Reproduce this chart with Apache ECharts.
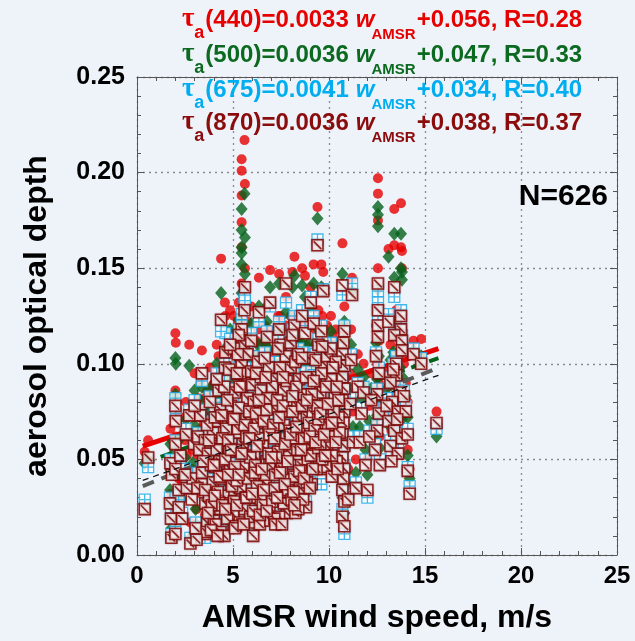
<!DOCTYPE html>
<html>
<head>
<meta charset="utf-8">
<script src="https://cdn.jsdelivr.net/npm/echarts@6/dist/echarts.min.js"></script>
<style>
html, body { margin: 0; padding: 0; background: #eef3fa; }
#chart { width: 635px; height: 641px; }
</style>
</head>
<body>
<div id="chart"></div>
<script>
// one entry per observation: AMSR wind speed and aerosol optical depth at 4 wavelengths
const windSpeed = [
  0.40,0.58,1.72,1.79,1.77,2.00,1.74,1.82,2.26,2.17, 2.60,2.17,2.78,2.00,2.02,2.72,2.00,2.00,2.97,2.90,
  3.38,3.96,3.18,3.54,4.17,3.25,3.39,3.39,3.56,3.82, 3.65,4.34,4.00,3.54,4.25,4.34,4.60,4.38,4.58,4.10,
  4.95,4.80,4.70,4.90,5.03,5.03,4.50,4.65,5.10,4.85,
  5.60,5.45,5.45,5.62,5.45,5.45,5.45,5.62,5.45,5.38, 5.38,5.56,5.30,5.50,5.55,5.40,5.60,5.70,5.30,5.75,
  6.00,6.08,6.35,6.77,6.86,6.94,6.15,6.20,6.40,6.55, 6.70,6.90,6.30,6.60,6.10,6.93,6.45,6.75,6.05,6.85,
  7.40,7.47,7.64,7.76,7.20,7.30,7.55,7.80,7.10,7.90, 7.25,7.65,7.95,7.40,7.70,7.15,7.85,7.50,
  8.00,8.00,8.20,8.10,8.40,8.60,8.75,8.30,8.50,8.80, 8.15,8.70,8.45,8.90,8.25,8.65,8.95,9.05,8.35,8.85,
  9.40,9.20,9.60,9.70,9.30,9.50,9.60,9.20,9.80,9.10, 9.90,9.45,9.75,9.15,9.55,9.85,
  10.70,10.80,10.75,10.70,10.80,10.70,10.80,10.70,10.80,10.75, 10.70,10.80,10.70,10.80,10.75,10.70,10.80,10.70,10.80,11.00, 11.20,10.30,10.20,10.40,10.10,10.50,10.15,11.10,11.25,11.15,
  12.00,12.55,12.55,12.55,12.55,12.45,12.60,12.50,12.60,12.50, 12.40,12.65,
  13.40,13.75,13.10,13.75,13.40,13.80,13.80,13.50,13.50,13.20, 13.70,13.30,13.60,13.10,13.40,13.80,13.20,13.60,14.40,14.80, 14.10,14.20,14.00,15.60,
  3.60,3.75,3.85,3.70,3.95,3.65,3.90,3.80,
  4.10,4.20,4.30,4.45,4.05,4.40,4.25,4.15,4.35,
  4.55,4.70,4.85,4.60,4.75,4.90,4.55,4.80,4.95,
  5.05,5.20,5.15,5.25,5.10,5.35,5.20,5.05,5.30,5.15,
  5.65,5.80,5.90,5.70,5.85,5.95,5.75,5.90,5.60,
  6.05,6.25,6.15,6.35,6.20,6.45,6.30,6.40,6.10,6.45,
  6.55,6.70,6.85,6.60,6.80,6.65,6.95,6.75,6.90,
  7.05,7.20,7.35,7.10,7.30,7.45,7.15,7.40,7.25,
  7.55,7.70,7.85,7.60,7.80,7.95,7.65,7.75,
  8.05,8.20,8.35,8.10,8.45,8.30,8.40,8.25,
  8.55,8.70,8.85,8.60,8.80,8.95,8.65,8.90,
  9.05,9.25,9.35,9.10,9.40,9.30,9.45,
  9.55,9.70,9.85,9.65,9.95,9.60,9.90,
  10.05,10.25,10.40,10.15,10.35,10.55,10.10,
  11.50,11.70,11.60,11.90,12.10,11.80,12.20,11.40,
  2.35,2.50,2.85,3.05,3.15,3.30,3.45,2.55,3.00,3.10,
  3.55,3.70,3.85,4.00,4.05,4.20,4.30,4.45,3.75,4.40,4.15,
  4.60,4.75,4.90,5.05,5.20,5.30,5.45,5.10,4.70,5.35,5.25,4.85,
  5.55,5.70,5.85,6.00,6.15,6.25,6.35,6.50,5.95,6.20,6.05,6.40,
  6.60,6.75,6.90,7.00,7.15,7.30,7.45,7.05,7.35,6.70,7.20,
  7.55,7.70,7.85,8.00,8.15,8.30,8.45,7.60,8.10,8.40,8.20,
  8.55,8.70,8.85,9.00,9.15,9.30,9.45,8.60,9.20,9.00,
  9.55,9.75,9.95,10.15,10.35,10.50,9.65,10.20,10.45,9.80,
  13.00,13.35,13.55,13.90,13.25,14.10
];
const aod440 = [
  .054,.060,.045,.020,.032,.024,.066,.060,.072,.050, .052,.040,.017,.116,.111,.110,.086,.062,.075,.055,
  .107,.089,.082,.082,.082,.072,.058,.050,.040,.035, .028,.038,.030,.021,.075,.095,.125,.155,.132,.062,
  .090,.070,.058,.050,.038,.030,.048,.082,.100,.040,
  .217,.207,.201,.194,.188,.174,.161,.150,.142,.115, .122,.128,.132,.075,.062,.050,.038,.090,.085,.104,
  .105,.098,.145,.130,.118,.100,.032,.045,.060,.075, .052,.040,.088,.095,.070,.149,.110,.068,.058,.085,
  .147,.125,.100,.135,.080,.062,.048,.038,.095,.070, .108,.085,.058,.035,.115,.050,.092,.072,
  .125,.112,.156,.148,.088,.150,.146,.065,.050,.040, .078,.100,.110,.075,.030,.060,.120,.140,.095,.088,
  .182,.152,.152,.148,.110,.085,.060,.070,.095,.050, .072,.128,.118,.090,.100,.058,
  .163,.130,.120,.118,.112,.105,.100,.095,.090,.085, .080,.075,.068,.062,.056,.048,.042,.036,.030,.045, .145,.100,.080,.065,.110,.088,.055,.095,.075,.118,
  .050,.197,.189,.175,.150,.120,.112,.100,.090,.080, .070,.062,
  .181,.184,.160,.161,.162,.159,.150,.128,.123,.110, .105,.098,.092,.088,.083,.078,.074,.070,.112,.113, .055,.045,.090,.075,
  .031,.048,.065,.072,.060,.086,.045,.098,
  .035,.050,.068,.080,.090,.058,.104,.072,.030,
  .025,.036,.060,.068,.080,.095,.105,.115,.052,
  .045,.055,.072,.082,.062,.030,.113,.125,.095,.028,
  .048,.056,.068,.080,.092,.112,.122,.035,.086,
  .038,.052,.065,.078,.092,.102,.118,.025,.082,.044,
  .042,.060,.072,.088,.100,.120,.030,.092,.060,
  .045,.058,.072,.085,.098,.115,.032,.088,.068,
  .062,.075,.050,.095,.108,.082,.038,.120,
  .045,.058,.072,.092,.082,.105,.038,.118,
  .062,.078,.052,.095,.110,.085,.045,.065,
  .068,.082,.060,.100,.095,.118,.072,
  .075,.088,.105,.065,.085,.112,.120,
  .078,.092,.105,.068,.118,.080,.125,
  .105,.090,.075,.062,.078,.100,.095,.050,
  .038,.060,.045,.032,.052,.090,.068,.080,.095,.024,
  .052,.038,.025,.065,.048,.025,.058,.042,.078,.090,.110,
  .040,.058,.072,.088,.042,.058,.070,.030,.098,.105,.122,.128,
  .030,.045,.078,.048,.060,.075,.098,.062,.130,.112,.020,.035,
  .050,.038,.080,.068,.078,.045,.058,.105,.125,.110,.028,
  .028,.052,.065,.080,.048,.085,.060,.110,.100,.122,.040,
  .072,.055,.098,.078,.060,.075,.088,.120,.108,.050,
  .090,.080,.095,.085,.075,.098,.125,.115,.060,.068,
  .095,.115,.088,.100,.065,.080
];
const aod500 = [
  .048,.050,.034,.014,.026,.016,.058,.052,.061,.043, .045,.030,.009,.103,.100,.099,.084,.059,.068,.048,
  .088,.080,.077,.073,.076,.064,.050,.042,.033,.028, .021,.030,.024,.013,.066,.085,.108,.137,.117,.055,
  .082,.062,.050,.043,.030,.022,.040,.074,.093,.033,
  .189,.181,.170,.166,.161,.158,.152,.147,.137,.105, .112,.118,.123,.066,.054,.043,.031,.080,.076,.095,
  .097,.089,.130,.122,.108,.092,.025,.038,.052,.066, .045,.033,.078,.086,.062,.140,.100,.060,.050,.078,
  .142,.117,.092,.127,.072,.055,.041,.031,.087,.063, .100,.077,.051,.028,.105,.043,.083,.064,
  .116,.104,.146,.140,.080,.141,.135,.058,.043,.033, .070,.092,.101,.067,.026,.053,.111,.130,.086,.080,
  .176,.142,.140,.139,.102,.077,.053,.062,.087,.044, .065,.118,.108,.082,.092,.051,
  .147,.122,.112,.108,.104,.097,.092,.087,.082,.077, .072,.067,.061,.055,.049,.041,.035,.030,.022,.037, .138,.092,.072,.058,.100,.080,.048,.087,.067,.110,
  .042,.182,.178,.172,.139,.111,.104,.092,.083,.073, .063,.056,
  .168,.168,.156,.150,.145,.148,.144,.120,.115,.102, .098,.090,.085,.080,.076,.071,.067,.063,.107,.104, .052,.040,.083,.062,
  .020,.040,.055,.063,.049,.077,.036,.087,
  .026,.041,.058,.071,.080,.049,.094,.062,.022,
  .018,.028,.051,.060,.071,.086,.096,.106,.044,
  .036,.046,.063,.073,.054,.023,.104,.117,.086,.021,
  .040,.048,.060,.071,.083,.103,.114,.027,.078,
  .030,.044,.057,.069,.083,.093,.110,.020,.074,.036,
  .034,.051,.063,.079,.091,.112,.024,.084,.052,
  .037,.050,.063,.076,.089,.106,.025,.080,.060,
  .054,.067,.042,.086,.100,.073,.030,.112,
  .037,.050,.064,.083,.074,.096,.031,.109,
  .054,.070,.044,.086,.101,.076,.038,.058,
  .060,.074,.052,.092,.087,.110,.064,
  .067,.080,.096,.057,.077,.104,.112,
  .070,.084,.097,.060,.110,.072,.117,
  .097,.082,.067,.055,.070,.093,.087,.043,
  .029,.051,.036,.024,.043,.081,.058,.071,.086,.016,
  .043,.030,.019,.056,.040,.018,.050,.034,.069,.082,.100,
  .032,.050,.064,.080,.034,.050,.062,.023,.090,.097,.113,.118,
  .023,.038,.070,.040,.052,.067,.089,.054,.121,.104,.015,.028,
  .043,.031,.071,.060,.070,.038,.050,.097,.116,.101,.022,
  .022,.045,.057,.072,.041,.076,.052,.101,.092,.113,.033,
  .064,.048,.090,.070,.053,.068,.080,.111,.100,.043,
  .082,.072,.087,.077,.067,.090,.117,.107,.053,.060,
  .087,.106,.080,.092,.058,.072
];
const aod675 = [
  .029,.046,.030,.011,.022,.015,.050,.044,.049,.031, .038,.026,.009,.082,.074,.076,.060,.047,.060,.043,
  .091,.066,.064,.062,.072,.057,.045,.039,.029,.024, .018,.026,.020,.009,.060,.079,.116,.117,.100,.048,
  .075,.056,.044,.036,.024,.017,.033,.068,.087,.030,
  .135,.126,.120,.133,.110,.106,.100,.096,.093,.098, .108,.113,.118,.060,.048,.038,.027,.074,.066,.085,
  .092,.083,.122,.117,.101,.086,.021,.033,.046,.060, .040,.028,.072,.078,.054,.130,.096,.052,.044,.070,
  .122,.113,.088,.132,.066,.049,.036,.026,.080,.057, .094,.071,.045,.024,.100,.038,.078,.060,
  .114,.100,.125,.118,.074,.128,.120,.052,.038,.028, .064,.087,.095,.061,.024,.046,.106,.135,.081,.075,
  .165,.125,.120,.139,.096,.070,.037,.056,.082,.040, .060,.113,.103,.077,.088,.048,
  .136,.120,.108,.104,.098,.091,.086,.080,.076,.070, .064,.058,.053,.047,.041,.034,.029,.024,.011,.033, .142,.086,.066,.052,.095,.075,.044,.082,.062,.105,
  .030,.138,.132,.125,.120,.106,.098,.087,.077,.068, .058,.050,
  .135,.128,.126,.121,.118,.115,.110,.104,.098,.093, .088,.082,.077,.072,.068,.064,.060,.056,.108,.103, .046,.036,.078,.066,
  .014,.033,.050,.055,.040,.070,.029,.083,
  .020,.036,.051,.064,.075,.043,.088,.058,.014,
  .012,.022,.047,.053,.063,.081,.091,.100,.038,
  .030,.041,.058,.068,.048,.020,.098,.111,.080,.018,
  .033,.042,.054,.065,.078,.098,.108,.023,.071,
  .026,.039,.050,.063,.077,.089,.104,.018,.069,.032,
  .029,.045,.056,.073,.085,.106,.021,.079,.050,
  .031,.045,.057,.071,.084,.101,.022,.075,.054,
  .048,.061,.037,.081,.094,.068,.026,.107,
  .032,.045,.058,.078,.069,.091,.027,.104,
  .050,.064,.040,.080,.096,.072,.032,.052,
  .055,.069,.047,.087,.081,.105,.059,
  .061,.074,.091,.052,.071,.098,.107,
  .065,.078,.091,.055,.104,.067,.111,
  .090,.077,.062,.050,.065,.088,.084,.038,
  .022,.045,.032,.017,.038,.076,.052,.066,.081,.010,
  .037,.025,.015,.050,.034,.013,.044,.029,.063,.077,.095,
  .027,.045,.058,.074,.029,.045,.056,.018,.084,.091,.108,.113,
  .019,.033,.064,.035,.046,.060,.084,.048,.116,.098,.013,.024,
  .037,.026,.066,.054,.064,.033,.046,.091,.112,.096,.019,
  .019,.040,.052,.066,.036,.070,.047,.096,.086,.108,.029,
  .058,.043,.084,.065,.048,.062,.074,.106,.094,.038,
  .077,.066,.082,.072,.062,.084,.112,.101,.048,.055,
  .082,.100,.074,.086,.052,.066
];
const aod870 = [
  .024,.051,.027,.009,.019,.011,.048,.042,.052,.034, .035,.025,.006,.078,.070,.073,.058,.045,.058,.040,
  .095,.064,.062,.060,.070,.055,.043,.037,.027,.022, .017,.024,.018,.011,.057,.076,.106,.123,.098,.046,
  .072,.054,.042,.034,.021,.015,.031,.066,.085,.027,
  .128,.118,.112,.140,.104,.100,.095,.090,.088,.095, .105,.110,.115,.058,.046,.035,.024,.071,.064,.082,
  .089,.080,.127,.114,.098,.083,.017,.030,.044,.057, .037,.025,.069,.075,.052,.132,.093,.049,.041,.067,
  .118,.110,.086,.142,.063,.046,.033,.022,.077,.054, .092,.068,.042,.020,.097,.035,.075,.057,
  .111,.098,.120,.115,.071,.125,.116,.049,.035,.025, .061,.084,.092,.058,.022,.043,.103,.132,.078,.072,
  .162,.121,.117,.138,.093,.067,.045,.053,.079,.037, .057,.110,.100,.074,.085,.046,
  .141,.117,.111,.105,.099,.093,.087,.081,.075,.069, .063,.057,.051,.045,.040,.034,.028,.020,.015,.029, .136,.083,.063,.049,.092,.072,.041,.079,.059,.102,
  .034,.142,.128,.120,.114,.104,.095,.084,.074,.065, .055,.047,
  .140,.125,.122,.118,.115,.112,.107,.100,.094,.090, .085,.080,.075,.070,.065,.061,.057,.053,.105,.100, .044,.032,.075,.069,
  .012,.031,.047,.053,.038,.068,.026,.080,
  .016,.033,.049,.061,.072,.040,.086,.055,.012,
  .010,.019,.045,.050,.060,.078,.088,.097,.036,
  .028,.039,.055,.066,.046,.017,.095,.108,.077,.015,
  .030,.040,.051,.062,.075,.096,.105,.020,.068,
  .023,.036,.047,.061,.074,.086,.101,.016,.066,.029,
  .026,.042,.053,.070,.082,.103,.018,.076,.047,
  .028,.042,.054,.068,.081,.098,.019,.072,.051,
  .045,.058,.034,.078,.091,.065,.027,.104,
  .029,.041,.055,.075,.066,.088,.024,.101,
  .047,.061,.038,.078,.093,.069,.029,.050,
  .052,.066,.045,.084,.078,.102,.056,
  .058,.071,.088,.050,.068,.095,.104,
  .062,.075,.088,.052,.101,.064,.108,
  .088,.074,.059,.047,.062,.085,.081,.035,
  .019,.042,.029,.014,.035,.073,.049,.063,.078,.008,
  .034,.022,.013,.047,.031,.010,.041,.026,.060,.073,.092,
  .024,.042,.055,.071,.026,.042,.053,.014,.081,.088,.105,.110,
  .016,.030,.061,.032,.043,.057,.081,.045,.112,.095,.010,.021,
  .034,.023,.063,.051,.061,.030,.043,.088,.108,.093,.016,
  .016,.037,.049,.063,.033,.067,.044,.093,.083,.105,.026,
  .055,.040,.081,.062,.045,.059,.071,.103,.091,.035,
  .074,.063,.079,.069,.059,.081,.109,.098,.045,.052,
  .078,.097,.071,.083,.049,.063
];

// regression line end points
const fitX = [0.3, 15.7];
const fit440 = [0.057, 0.108];
const fit500 = [0.048, 0.103];
const fit675 = [0.036, 0.098];
const fit870 = [0.039, 0.094];

// equation labels
const eqWave = ['(440)', '(500)', '(675)', '(870)'];
const eqSlope = ['0.0033', '0.0036', '0.0041', '0.0036'];
const eqIntercept = ['+0.056', '+0.047', '+0.034', '+0.038'];
const eqR = ['0.28', '0.33', '0.40', '0.37'];
const countText = 'N=626';

if (![aod440, aod500, aod675, aod870].every(a => a.length === windSpeed.length)) {
  console.error('length mismatch', windSpeed.length, aod440.length, aod500.length, aod675.length, aod870.length);
}

const C440 = '#e60000', C500 = '#05621a', C675 = '#18a8e6', C870 = '#7a0000';
const FONT = '"Liberation Sans", Arial, Helvetica, sans-serif';

const pts = ys => windSpeed.map((x, i) => [x, ys[i]]);
const seg = ys => fitX.map((x, i) => [x, ys[i]]);

// equation text, laid out piece by piece (subscripts)
const ctx = document.createElement('canvas').getContext('2d');
function textW(font, t) { ctx.font = font; return ctx.measureText(t).width; }
const eqColors = [C440, '#0b6a1f', '#00aeef', '#8b0c0c'];
const baselines = [30, 65, 100, 133];
const graphics = [];
eqWave.forEach((w, i) => {
  const main = 'bold 24px ' + FONT;
  const parts = [
    { t: 'τ', font: 'bold 27px "Liberation Serif", serif', size: 27, dy: 0, gap: 0 },
    { t: 'a', font: 'bold 18px ' + FONT, size: 18, dy: 11, gap: 0 },
    { t: w + '=' + eqSlope[i], font: main, size: 24, dy: 0, gap: 1 },
    { t: 'w', font: 'italic bold 24px ' + FONT, size: 24, dy: 0, gap: 7 },
    { t: 'AMSR', font: 'bold 15px ' + FONT, size: 15, dy: 11, gap: -3 },
    { t: eqIntercept[i] + ', R=' + eqR[i], font: main, size: 24, dy: 0, gap: 1 }
  ];
  let total = 0;
  parts.forEach(p => { p.w = textW(p.font, p.t); total += p.gap + p.w; });
  let x = 382 - total / 2;
  parts.forEach(p => {
    x += p.gap;
    graphics.push({
      type: 'text', left: x, top: baselines[i] + p.dy - p.size * 0.92, z: 100,
      style: { text: p.t, font: p.font, fill: eqColors[i] }
    });
    x += p.w;
  });
});
graphics.push({
  type: 'text', right: 27, top: 182, z: 100,
  style: { text: countText, font: 'bold 30px ' + FONT, fill: '#000' }
});

const axisCol = '#555';
function xAxisCfg(pos, main) {
  return {
    type: 'value', position: pos, min: 0, max: 25, interval: 5,
    axisLine: { show: true, onZero: false, lineStyle: { color: axisCol, width: 1 } },
    axisTick: { show: true, inside: true, length: 7, lineStyle: { color: axisCol } },
    minorTick: { show: true, splitNumber: 5, length: 4, lineStyle: { color: axisCol } },
    axisLabel: { show: main, margin: 9, color: '#000', fontFamily: FONT, fontWeight: 'bold', fontSize: 24 },
    splitLine: { show: main, lineStyle: { color: '#8a8a8a', type: [2, 4], width: 1.3 } },
    minorSplitLine: { show: false },
    name: main ? 'AMSR wind speed, m/s' : '', nameLocation: 'middle', nameGap: 47,
    nameTextStyle: { color: '#000', fontFamily: FONT, fontWeight: 'bold', fontSize: 32 }
  };
}
function yAxisCfg(pos, main) {
  return {
    type: 'value', position: pos, min: 0, max: 0.25, interval: 0.05,
    axisLine: { show: true, onZero: false, lineStyle: { color: axisCol, width: 1 } },
    axisTick: { show: true, inside: true, length: 7, lineStyle: { color: axisCol } },
    minorTick: { show: true, splitNumber: 5, length: 4, lineStyle: { color: axisCol } },
    axisLabel: { show: main, margin: 12, color: '#000', fontFamily: FONT, fontWeight: 'bold', fontSize: 25,
      formatter: v => v.toFixed(2) },
    splitLine: { show: main, lineStyle: { color: '#8a8a8a', type: [2, 4], width: 1.3 } },
    name: main ? 'aerosol optical depth' : '', nameLocation: 'middle', nameGap: 84,
    nameTextStyle: { color: '#000', fontFamily: FONT, fontWeight: 'bold', fontSize: 32 }
  };
}

const cyanSym = 'path://M0 0L10 0L10 10L0 10Z M5 0L5 10 M0 5L10 5';
const boxSym = 'path://M0 0L10 0L10 10L0 10Z M1.5 1.5L8.5 8.5';

const chart = echarts.init(document.getElementById('chart'), null, { renderer: 'canvas' });
chart.setOption({
  backgroundColor: '#eef3fa',
  animation: false,
  grid: { left: 137, right: 18, top: 77, bottom: 86, containLabel: false, outerBoundsMode: 'none' },
  xAxis: [xAxisCfg('bottom', true), xAxisCfg('top', false)],
  yAxis: [yAxisCfg('left', true), yAxisCfg('right', false)],
  graphic: graphics,
  series: [
    { name: '440', type: 'scatter', data: pts(aod440), symbol: 'circle', symbolSize: 10,
      itemStyle: { color: C440 }, z: 2 },
    { name: 'fit440', type: 'line', data: seg(fit440), showSymbol: false, z: 3,
      lineStyle: { color: C440, width: 5 } },
    { name: '500', type: 'scatter', data: pts(aod500), symbol: 'diamond', symbolSize: [12, 14],
      itemStyle: { color: C500 }, z: 4 },
    { name: 'fit500', type: 'line', data: seg(fit500), showSymbol: false, z: 5,
      lineStyle: { color: C500, width: 4, type: [12, 7] } },
    { name: '675', type: 'scatter', data: pts(aod675), symbol: cyanSym, symbolSize: 11,
      itemStyle: { color: '#ffffff', borderColor: C675, borderWidth: 1.3 }, z: 6 },
    { name: 'fit675', type: 'line', data: seg(fit675), showSymbol: false, z: 7,
      lineStyle: { color: '#5a5a5a', width: 4, type: [12, 8] } },
    { name: '870', type: 'scatter', data: pts(aod870), symbol: boxSym, symbolSize: 11,
      itemStyle: { color: '#ffffff', borderColor: C870, borderWidth: 1.6,
        shadowColor: 'rgba(140,40,40,0.45)', shadowBlur: 2 }, z: 8 },
    { name: 'fit870', type: 'line', data: seg(fit870), showSymbol: false, z: 9,
      lineStyle: { color: '#111', width: 1.3, type: [6, 5] } }
  ]
});
</script>
</body>
</html>
